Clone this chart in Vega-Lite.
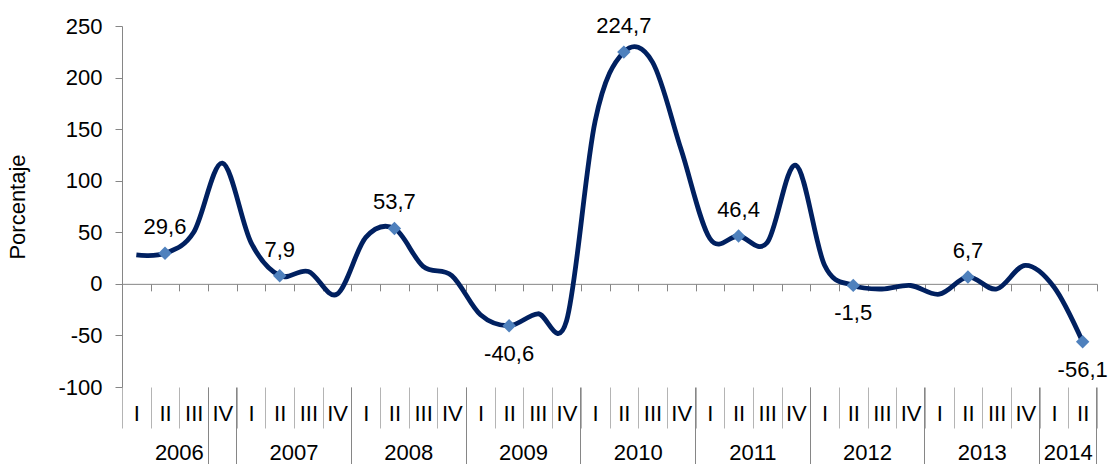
{
  "$schema": "https://vega.github.io/schema/vega-lite/v6.json",
  "width": 975,
  "height": 361,
  "autosize": {"type": "none"},
  "padding": {"left": 122, "top": 26, "right": 11, "bottom": 77},
  "config": {
    "view": {"stroke": null},
    "font": "Liberation Sans",
    "axis": {"grid": false, "labelFont": "Liberation Sans", "titleFont": "Liberation Sans"},
    "locale": {"number": {"decimal": ",", "thousands": ".", "grouping": [3], "currency": ["", ""], "minus": "-"}}
  },
  "data": {
    "values": [
      {"k": "2006-I", "q": "I", "v": 28},
      {"k": "2006-II", "q": "II", "v": 29.6},
      {"k": "2006-III", "q": "III", "v": 50},
      {"k": "2006-IV", "q": "IV", "v": 117},
      {"k": "2007-I", "q": "I", "v": 40},
      {"k": "2007-II", "q": "II", "v": 7.9},
      {"k": "2007-III", "q": "III", "v": 12},
      {"k": "2007-IV", "q": "IV", "v": -10},
      {"k": "2008-I", "q": "I", "v": 45},
      {"k": "2008-II", "q": "II", "v": 53.7},
      {"k": "2008-III", "q": "III", "v": 17},
      {"k": "2008-IV", "q": "IV", "v": 8},
      {"k": "2009-I", "q": "I", "v": -30},
      {"k": "2009-II", "q": "II", "v": -40.6},
      {"k": "2009-III", "q": "III", "v": -29},
      {"k": "2009-IV", "q": "IV", "v": -36},
      {"k": "2010-I", "q": "I", "v": 158},
      {"k": "2010-II", "q": "II", "v": 224.7},
      {"k": "2010-III", "q": "III", "v": 215},
      {"k": "2010-IV", "q": "IV", "v": 130},
      {"k": "2011-I", "q": "I", "v": 44},
      {"k": "2011-II", "q": "II", "v": 46.4},
      {"k": "2011-III", "q": "III", "v": 40},
      {"k": "2011-IV", "q": "IV", "v": 115},
      {"k": "2012-I", "q": "I", "v": 18},
      {"k": "2012-II", "q": "II", "v": -1.5},
      {"k": "2012-III", "q": "III", "v": -5},
      {"k": "2012-IV", "q": "IV", "v": -1.6},
      {"k": "2013-I", "q": "I", "v": -10},
      {"k": "2013-II", "q": "II", "v": 6.7},
      {"k": "2013-III", "q": "III", "v": -5},
      {"k": "2013-IV", "q": "IV", "v": 18},
      {"k": "2014-I", "q": "I", "v": -3},
      {"k": "2014-II", "q": "II", "v": -56.1}
    ]
  },
  "encoding": {
    "y": {
      "field": "v",
      "type": "quantitative",
      "scale": {"domain": [-100, 250], "nice": false, "zero": false},
      "axis": {
        "values": [-100, -50, 0, 50, 100, 150, 200, 250],
        "title": "Porcentaje",
        "titleFontSize": 22,
        "titleFontWeight": "normal",
        "titleColor": "#000000",
        "titlePadding": 28,
        "labelFontSize": 22,
        "labelColor": "#000000",
        "labelPadding": 13,
        "tickSize": 7,
        "tickColor": "#868686",
        "domainColor": "#868686"
      }
    }
  },
  "layer": [
    {
      "mark": {"type": "line", "interpolate": "cardinal", "tension": 0, "color": "#002060", "strokeWidth": 4.8},
      "encoding": {
        "x": {
          "field": "k",
          "type": "ordinal",
          "sort": null,
          "scale": {"type": "band", "paddingInner": 0, "paddingOuter": 0},
          "axis": {
            "orient": "bottom",
            "title": null,
            "offset": {"expr": "scale('y', 0) - height"},
            "labels": false,
            "tickBand": "extent",
            "tickSize": 7,
            "tickColor": "#868686",
            "domainColor": "#868686"
          }
        }
      }
    },
    {
      "transform": [{"filter": "datum.q == 'II'"}],
      "mark": {"type": "point", "shape": "diamond", "filled": true, "size": 180, "color": "#4F81BD", "opacity": 1},
      "encoding": {
        "x": {
          "field": "k",
          "type": "ordinal",
          "sort": null,
          "axis": {
            "orient": "bottom",
            "title": null,
            "domain": false,
            "tickBand": "extent",
            "tickSize": 41,
            "tickColor": "#b4b4b4",
            "labelExpr": "split(datum.value, '-')[1]",
            "labelFontSize": 22,
            "labelColor": "#000000",
            "labelPadding": -25,
            "labelAngle": 0
          }
        }
      }
    },
    {
      "transform": [{"filter": "datum.q == 'II' && datum.v >= 0"}],
      "mark": {"type": "text", "dy": -26, "fontSize": 22, "color": "#000000"},
      "encoding": {
        "text": {"field": "v", "type": "quantitative", "format": ".1f"},
        "x": {
          "field": "k",
          "type": "ordinal",
          "sort": null,
          "axis": {
            "orient": "bottom",
            "title": null,
            "domain": false,
            "labels": false,
            "values": ["2006-IV", "2007-IV", "2008-IV", "2009-IV", "2010-IV", "2011-IV", "2012-IV", "2013-IV", "2014-II"],
            "bandPosition": 1,
            "tickExtra": true,
            "tickSize": 77,
            "tickColor": "#868686"
          }
        }
      }
    },
    {
      "transform": [{"filter": "datum.q == 'II' && datum.v < 0"}],
      "mark": {"type": "text", "dy": 28, "fontSize": 22, "color": "#000000"},
      "encoding": {
        "text": {"field": "v", "type": "quantitative", "format": ".1f"},
        "x": {
          "field": "k",
          "type": "ordinal",
          "sort": null,
          "axis": {
            "orient": "bottom",
            "title": null,
            "domain": false,
            "ticks": false,
            "tickSize": 0,
            "values": ["2006-II", "2007-II", "2008-II", "2009-II", "2010-II", "2011-II", "2012-II", "2013-II", "2014-I"],
            "labelExpr": "split(datum.value, '-')[0]",
            "labelOffset": {"expr": "bandwidth('x') / 2"},
            "labelPadding": 55,
            "labelFontSize": 22,
            "labelColor": "#000000",
            "labelAngle": 0
          }
        }
      }
    }
  ],
  "resolve": {"axis": {"x": "independent"}}
}
